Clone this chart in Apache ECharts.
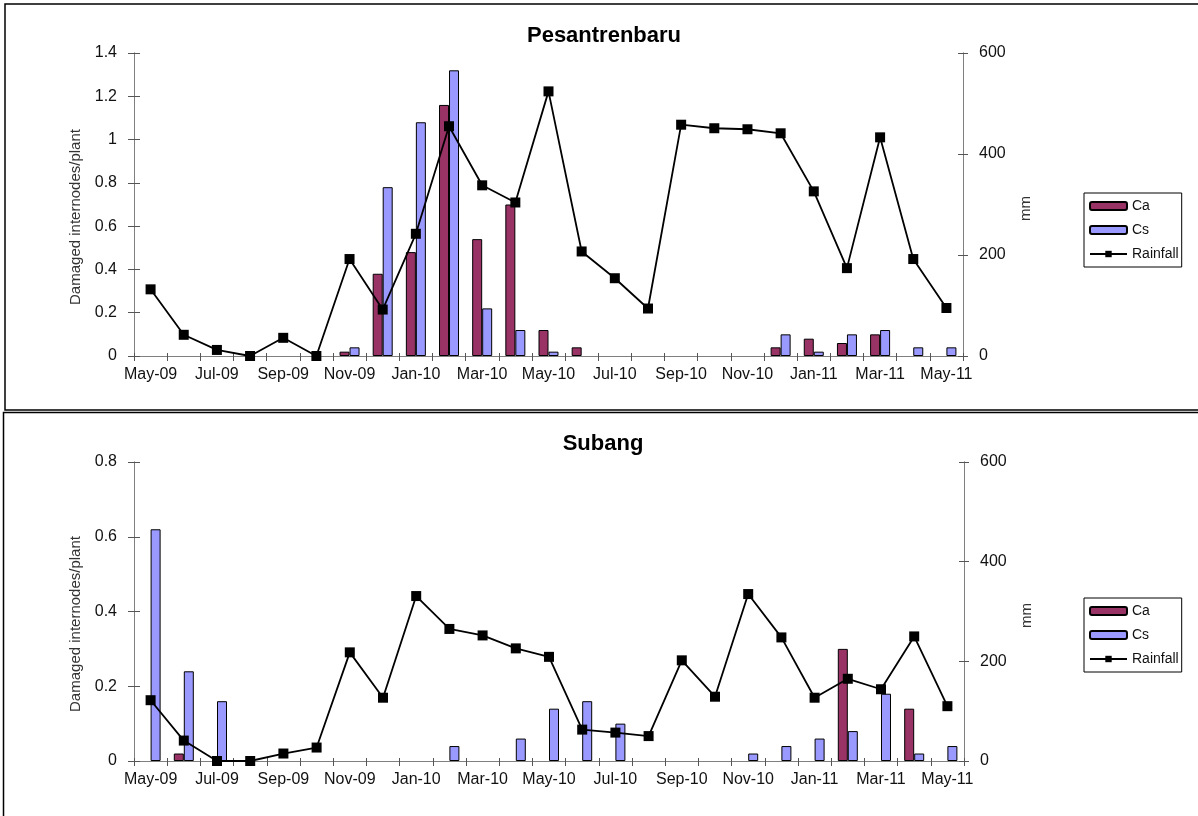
<!DOCTYPE html>
<html>
<head>
<meta charset="utf-8">
<script src="https://cdn.jsdelivr.net/npm/echarts@6/dist/echarts.min.js"></script>
<style>
  html, body { margin: 0; padding: 0; background: #fff; }
  #chart { width: 1198px; height: 816px; }
</style>
</head>
<body>
<div id="chart"></div>
<script>
// Monthly observations, May 2009 – May 2011
const months = ['May-09','Jun-09','Jul-09','Aug-09','Sep-09','Oct-09','Nov-09','Dec-09',
  'Jan-10','Feb-10','Mar-10','Apr-10','May-10','Jun-10','Jul-10','Aug-10','Sep-10','Oct-10',
  'Nov-10','Dec-10','Jan-11','Feb-11','Mar-11','Apr-11','May-11'];

// Pesantrenbaru: damaged internodes per plant (Ca, Cs) and rainfall (mm)
const pesCa = [0,0,0,0,0,0,0.02,0.38,0.48,1.16,0.54,0.70,0.12,0.04,0,0,0,0,0,0.04,0.08,0.06,0.10,0,0];
const pesCs = [0,0,0,0,0,0,0.04,0.78,1.08,1.32,0.22,0.12,0.02,0,0,0,0,0,0,0.10,0.02,0.10,0.12,0.04,0.04];
const pesRain = [132,42,12,0,36,0,192,92,242,455,338,304,524,207,154,94,458,451,449,441,326,174,433,192,95];

// Subang: damaged internodes per plant (Ca, Cs) and rainfall (mm)
const subCa = [0,0.02,0,0,0,0,0,0,0,0,0,0,0,0,0,0,0,0,0,0,0,0.30,0,0.14,0];
const subCs = [0.62,0.24,0.16,0,0,0,0,0,0,0.04,0,0.06,0.14,0.16,0.10,0,0,0,0.02,0.04,0.06,0.08,0.18,0.02,0.04];
const subRain = [122,41,0,0,15,27,218,127,331,265,252,226,209,63,57,50,202,129,335,248,127,165,144,250,110];

const FONT = 'Liberation Sans, Arial, sans-serif';
const AXIS_GREY = '#808080';
const TICK_COLOR = '#555';
const CA_COLOR = '#993366';
const CS_COLOR = '#9999FF';

const axisLineStyle = { show: true, lineStyle: { color: AXIS_GREY, width: 1 } };

// A main category axis (outside ticks + labels) and a twin carrying inside ticks,
// together giving cross-style tick marks.
function xAxesFor(gridIndex) {
  return [
    {
      type: 'category', gridIndex, data: months, position: 'bottom', boundaryGap: true,
      axisLine: axisLineStyle,
      axisTick: { show: true, interval: 0, length: 5, lineStyle: { color: TICK_COLOR } },
      axisLabel: { interval: 1, margin: 11, fontSize: 16, color: '#111', fontFamily: FONT },
      splitLine: { show: false }
    },
    {
      type: 'category', gridIndex, data: months, position: 'bottom', boundaryGap: true,
      axisLine: axisLineStyle,
      axisTick: { show: true, interval: 0, inside: true, length: 3, lineStyle: { color: TICK_COLOR } },
      axisLabel: { show: false },
      splitLine: { show: false }
    }
  ];
}

function yAxesFor(gridIndex, leftMax) {
  const base = { type: 'value', gridIndex, min: 0, splitLine: { show: false } };
  const label = { fontSize: 16, color: '#111', fontFamily: FONT };
  return [
    Object.assign({}, base, {
      position: 'left', max: leftMax, interval: 0.2,
      name: 'Damaged internodes/plant', nameLocation: 'middle', nameGap: 51,
      nameTextStyle: { fontSize: 15, color: '#333', fontFamily: FONT, padding: [0, 25, 0, 0] },
      axisLine: axisLineStyle,
      axisTick: { show: true, length: 6, lineStyle: { color: TICK_COLOR } },
      axisLabel: Object.assign({ margin: 17 }, label)
    }),
    Object.assign({}, base, {
      position: 'right', max: 600, interval: 200,
      name: 'mm', nameLocation: 'middle', nameGap: 55,
      nameTextStyle: { fontSize: 15, color: '#333', fontFamily: FONT, padding: [0, 8, 0, 0] },
      axisLine: axisLineStyle,
      axisTick: { show: true, length: 5, lineStyle: { color: TICK_COLOR } },
      axisLabel: Object.assign({ margin: 16 }, label)
    }),
    Object.assign({}, base, {
      position: 'left', max: leftMax, interval: 0.2,
      axisLine: axisLineStyle,
      axisTick: { show: true, inside: true, length: 6, lineStyle: { color: TICK_COLOR } },
      axisLabel: { show: false }
    }),
    Object.assign({}, base, {
      position: 'right', max: 600, interval: 200,
      axisLine: axisLineStyle,
      axisTick: { show: true, inside: true, length: 5, lineStyle: { color: TICK_COLOR } },
      axisLabel: { show: false }
    })
  ];
}

function barSeries(name, values, color, xi, yi) {
  return {
    type: 'bar', name, xAxisIndex: xi, yAxisIndex: yi,
    data: values.map(v => (v === 0 ? null : v)),
    barWidth: 10, barGap: '0%',
    itemStyle: { color, borderColor: '#000', borderWidth: 1 },
    emphasis: { disabled: true }
  };
}

function rainSeries(values, xi, yi) {
  return {
    type: 'line', name: 'Rainfall', xAxisIndex: xi, yAxisIndex: yi,
    data: values, symbol: 'rect', symbolSize: 10, z: 5,
    lineStyle: { color: '#000', width: 1.8 },
    itemStyle: { color: '#000' },
    emphasis: { disabled: true }
  };
}

function legendAt(top) {
  return {
    orient: 'vertical', left: 1084, top,
    data: ['Ca', 'Cs', 'Rainfall'],
    itemWidth: 37, itemHeight: 8, itemGap: 8,
    padding: [5, 3, 5, 5],
    borderColor: '#000', borderWidth: 1, borderRadius: 0,
    selectedMode: false,
    textStyle: { fontSize: 14, color: '#111', fontFamily: FONT, lineHeight: 16 }
  };
}

const chart = echarts.init(document.getElementById('chart'), null, { renderer: 'canvas' });

chart.setOption({
  animation: false,
  backgroundColor: '#fff',
  grid: [
    { left: 134, top: 53, width: 829, height: 303 },
    { left: 134, top: 462, width: 830, height: 299 }
  ],
  xAxis: xAxesFor(0).concat(xAxesFor(1)),
  yAxis: yAxesFor(0, 1.4).concat(yAxesFor(1, 0.8)),
  legend: [legendAt(193), legendAt(598)],
  series: [
    barSeries('Ca', pesCa, CA_COLOR, 0, 0),
    barSeries('Cs', pesCs, CS_COLOR, 0, 0),
    rainSeries(pesRain, 0, 1),
    barSeries('Ca', subCa, CA_COLOR, 2, 4),
    barSeries('Cs', subCs, CS_COLOR, 2, 4),
    rainSeries(subRain, 2, 5)
  ],
  graphic: [
    { type: 'rect', silent: true, shape: { x: 5, y: 4, width: 1300, height: 406 },
      style: { fill: 'none', stroke: '#000', lineWidth: 1.5 } },
    { type: 'rect', silent: true, shape: { x: 3.5, y: 412.5, width: 1300, height: 500 },
      style: { fill: 'none', stroke: '#000', lineWidth: 1.5 } },
    { type: 'text', silent: true, x: 604, y: 36,
      style: { text: 'Pesantrenbaru', align: 'center', verticalAlign: 'middle',
        fontSize: 22, fontWeight: 'bold', fontFamily: FONT, fill: '#000' } },
    { type: 'text', silent: true, x: 603, y: 444,
      style: { text: 'Subang', align: 'center', verticalAlign: 'middle',
        fontSize: 22, fontWeight: 'bold', fontFamily: FONT, fill: '#000' } }
  ]
});
</script>
</body>
</html>
